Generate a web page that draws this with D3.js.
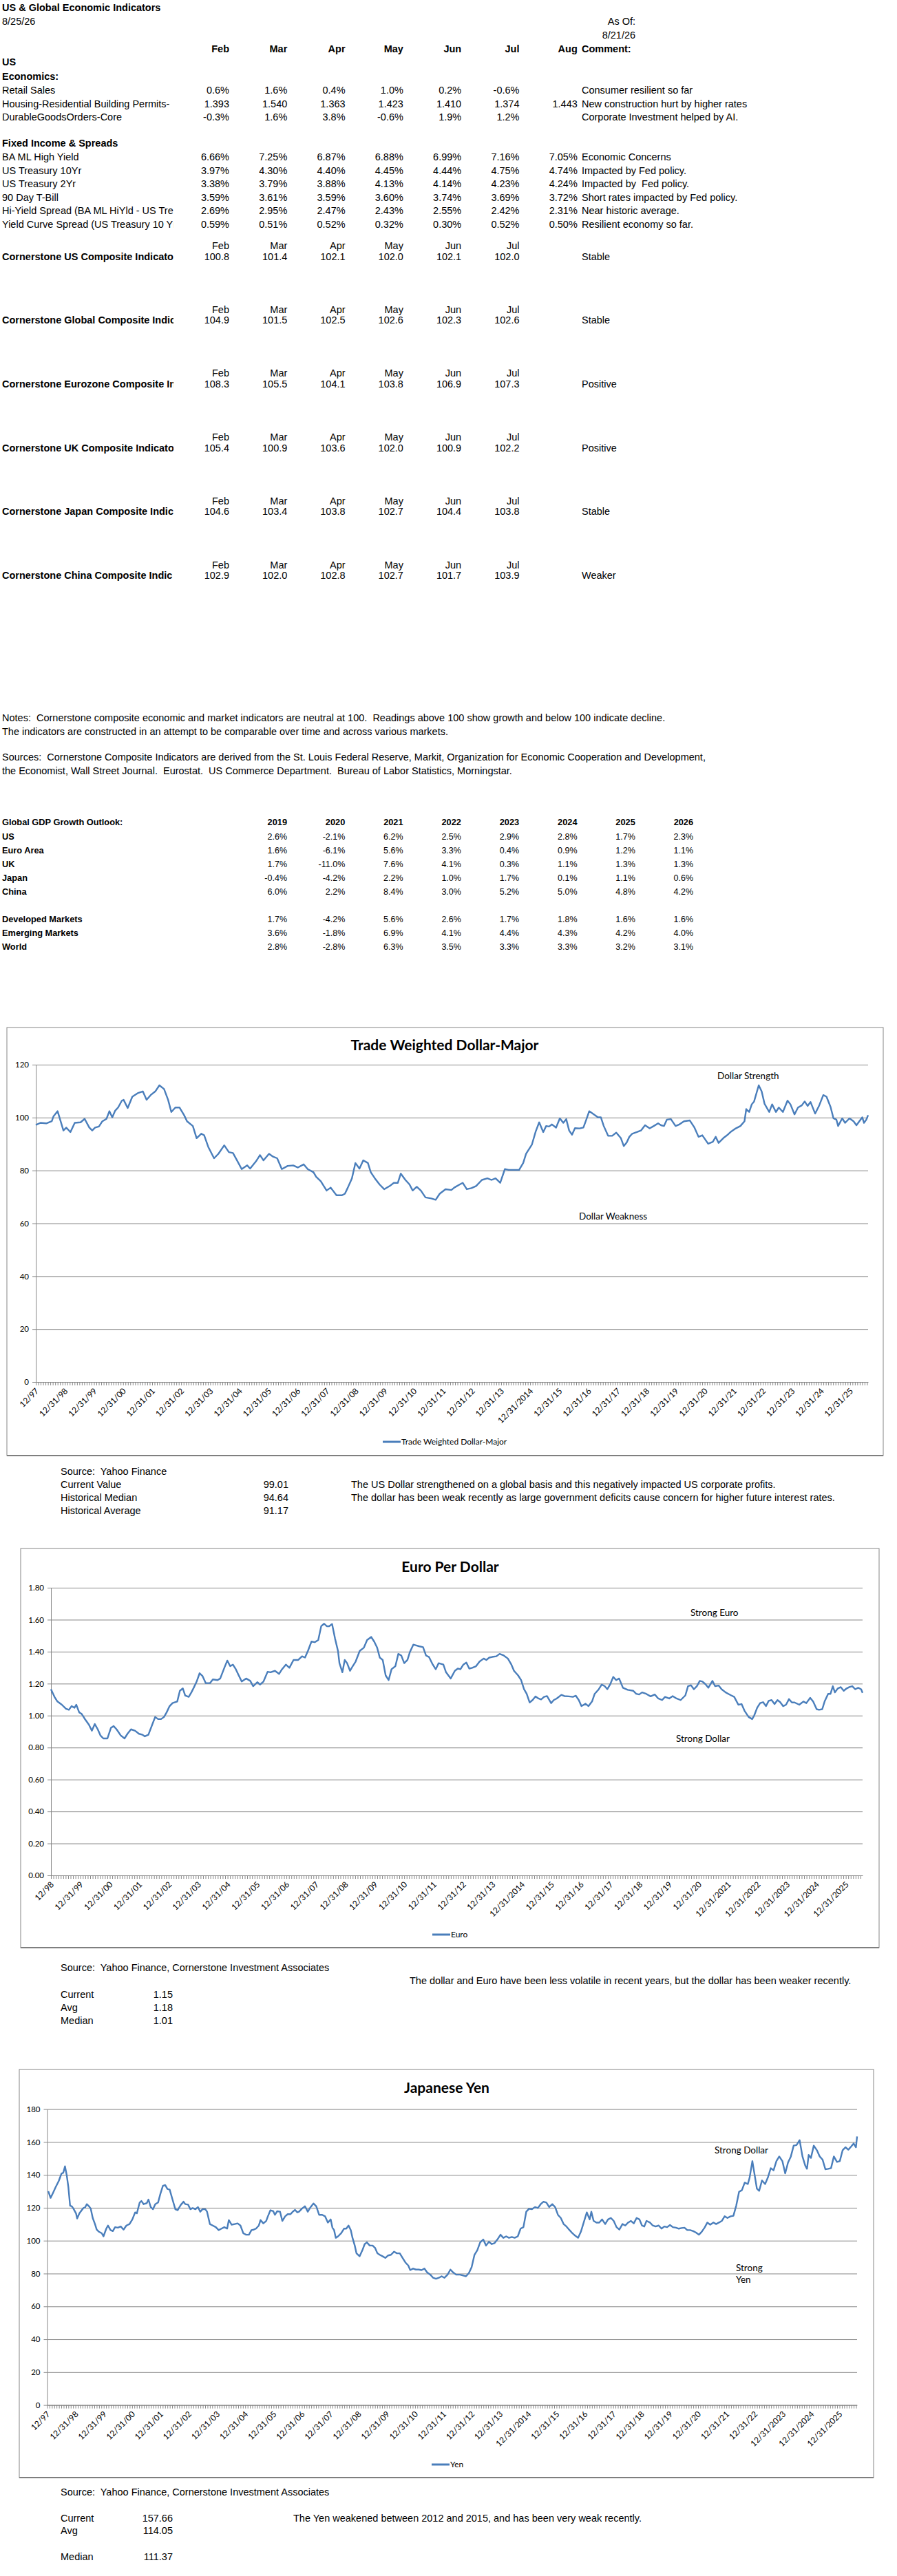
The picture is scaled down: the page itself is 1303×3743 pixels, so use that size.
<!DOCTYPE html>
<html>
<head>
<meta charset="utf-8">
<script src="https://cdn.jsdelivr.net/npm/d3@7"></script>
<style>
body{margin:0;background:#fff;}
svg text{font-family:"Liberation Sans",Arial,sans-serif;font-size:14.5px;fill:#000;white-space:pre;}
svg .chart text{font-family:Lato,"Open Sans",sans-serif;}
</style>
</head>
<body>
<svg id="page" width="1303" height="3743"></svg>
<script>
// ---------- table data ----------
var reportTitle = "US & Global Economic Indicators";
var reportDate = "8/25/26";
var asOfDate = "8/21/26";
var months = ["Feb","Mar","Apr","May","Jun","Jul"];

var econRows = [
	["Retail Sales", ["0.6%","1.6%","0.4%","1.0%","0.2%","-0.6%"], "", "Consumer resilient so far"],
	["Housing-Residential Building Permits-Millions", ["1.393","1.540","1.363","1.423","1.410","1.374"], "1.443", "New construction hurt by higher rates"],
	["DurableGoodsOrders-Core", ["-0.3%","1.6%","3.8%","-0.6%","1.9%","1.2%"], "", "Corporate Investment helped by AI."]
];

var fixedRows = [
	["BA ML High Yield", ["6.66%","7.25%","6.87%","6.88%","6.99%","7.16%"], "7.05%", "Economic Concerns"],
	["US Treasury 10Yr", ["3.97%","4.30%","4.40%","4.45%","4.44%","4.75%"], "4.74%", "Impacted by Fed policy."],
	["US Treasury 2Yr", ["3.38%","3.79%","3.88%","4.13%","4.14%","4.23%"], "4.24%", "Impacted by  Fed policy."],
	["90 Day T-Bill", ["3.59%","3.61%","3.59%","3.60%","3.74%","3.69%"], "3.72%", "Short rates impacted by Fed policy."],
	["Hi-Yield Spread (BA ML HiYld - US Treasury 10Yr)", ["2.69%","2.95%","2.47%","2.43%","2.55%","2.42%"], "2.31%", "Near historic average."],
	["Yield Curve Spread (US Treasury 10 Yr - 2 Yr)", ["0.59%","0.51%","0.52%","0.32%","0.30%","0.52%"], "0.50%", "Resilient economy so far."]
];

var compositeNames = [
	"Cornerstone US Composite Indicator",
	"Cornerstone Global Composite Indicator",
	"Cornerstone Eurozone Composite Indicator",
	"Cornerstone UK Composite Indicator",
	"Cornerstone Japan Composite Indicator",
	"Cornerstone China Composite Indicator"
];
var compositeValues = [
	[100.8,101.4,102.1,102.0,102.1,102.0],
	[104.9,101.5,102.5,102.6,102.3,102.6],
	[108.3,105.5,104.1,103.8,106.9,107.3],
	[105.4,100.9,103.6,102.0,100.9,102.2],
	[104.6,103.4,103.8,102.7,104.4,103.8],
	[102.9,102.0,102.8,102.7,101.7,103.9]
];
var compositeComments = ["Stable","Stable","Positive","Positive","Stable","Weaker"];

var notesText = [
	"Notes:  Cornerstone composite economic and market indicators are neutral at 100.  Readings above 100 show growth and below 100 indicate decline.",
	"The indicators are constructed in an attempt to be comparable over time and across various markets."
];
var sourcesText = [
	"Sources:  Cornerstone Composite Indicators are derived from the St. Louis Federal Reserve, Markit, Organization for Economic Cooperation and Development,",
	"the Economist, Wall Street Journal.  Eurostat.  US Commerce Department.  Bureau of Labor Statistics, Morningstar."
];

var gdpTitle = "Global GDP Growth Outlook:";
var gdpYears = ["2019","2020","2021","2022","2023","2024","2025","2026"];
var gdpRegions = ["US","Euro Area","UK","Japan","China","Developed Markets","Emerging Markets","World"];
var gdpValues = [
	["2.6%","-2.1%","6.2%","2.5%","2.9%","2.8%","1.7%","2.3%"],
	["1.6%","-6.1%","5.6%","3.3%","0.4%","0.9%","1.2%","1.1%"],
	["1.7%","-11.0%","7.6%","4.1%","0.3%","1.1%","1.3%","1.3%"],
	["-0.4%","-4.2%","2.2%","1.0%","1.7%","0.1%","1.1%","0.6%"],
	["6.0%","2.2%","8.4%","3.0%","5.2%","5.0%","4.8%","4.2%"],
	["1.7%","-4.2%","5.6%","2.6%","1.7%","1.8%","1.6%","1.6%"],
	["3.6%","-1.8%","6.9%","4.1%","4.4%","4.3%","4.2%","4.0%"],
	["2.8%","-2.8%","6.3%","3.5%","3.3%","3.3%","3.2%","3.1%"]
];

// ---------- chart data (decimal year, value) ----------
var dollarSeries = [
[1998.00,97.2],[1998.16,98.0],[1998.36,97.8],[1998.55,98.6],[1998.61,100.5],[1998.75,102.4],[1998.95,95.1],[1999.05,96.2],[1999.19,94.5],[1999.34,98.0],
[1999.54,98.2],[1999.68,99.5],[1999.84,96.2],[1999.94,95.1],[2000.04,96.2],[2000.17,96.6],[2000.29,98.6],[2000.43,99.5],[2000.53,102.4],[2000.63,100.1],
[2000.73,102.6],[2000.83,103.8],[2000.96,106.4],[2001.02,106.7],[2001.16,103.6],[2001.32,107.9],[2001.52,109.3],[2001.68,109.9],[2001.81,106.7],[2001.95,108.5],
[2002.11,109.9],[2002.25,112.2],[2002.41,110.8],[2002.55,106.7],[2002.66,102.1],[2002.80,103.8],[2002.94,103.8],[2003.10,100.9],[2003.20,98.6],[2003.40,96.8],
[2003.53,92.2],[2003.69,93.9],[2003.79,93.3],[2003.93,88.9],[2004.13,84.6],[2004.28,86.3],[2004.48,89.5],[2004.64,86.9],[2004.78,86.6],[2004.92,83.8],
[2005.08,80.5],[2005.27,81.9],[2005.37,80.7],[2005.57,83.4],[2005.71,85.8],[2005.83,83.8],[2006.02,86.3],[2006.16,85.2],[2006.30,84.6],[2006.46,80.5],
[2006.66,81.7],[2006.85,81.9],[2007.01,81.1],[2007.21,82.3],[2007.35,80.5],[2007.55,79.3],[2007.64,77.6],[2007.80,75.9],[2008.00,72.4],[2008.14,73.5],
[2008.34,70.6],[2008.53,70.6],[2008.63,71.2],[2008.73,73.5],[2008.87,77.0],[2008.99,82.8],[2009.13,80.7],[2009.26,83.8],[2009.42,82.8],[2009.52,79.3],
[2009.66,77.0],[2009.82,74.7],[2009.98,72.9],[2010.17,74.1],[2010.31,75.3],[2010.45,75.3],[2010.55,78.8],[2010.71,76.4],[2010.85,74.7],[2010.96,72.4],
[2011.10,73.8],[2011.24,72.4],[2011.40,69.8],[2011.60,69.4],[2011.75,68.9],[2011.89,71.2],[2012.09,72.9],[2012.29,72.6],[2012.39,73.5],[2012.58,74.7],
[2012.68,75.3],[2012.82,72.9],[2012.98,73.3],[2013.14,74.1],[2013.34,76.4],[2013.53,77.0],[2013.67,76.4],[2013.81,77.0],[2013.97,75.3],[2014.13,80.5],
[2014.26,80.2],[2014.46,80.2],[2014.62,80.2],[2014.76,82.8],[2014.86,86.3],[2015.06,89.8],[2015.19,94.7],[2015.31,98.2],[2015.45,94.5],[2015.55,96.8],
[2015.65,96.6],[2015.75,97.4],[2015.89,96.2],[2016.02,99.7],[2016.14,98.0],[2016.24,99.4],[2016.34,95.1],[2016.44,93.5],[2016.54,96.0],[2016.70,95.9],
[2016.83,96.2],[2016.93,99.2],[2017.03,102.4],[2017.19,101.2],[2017.33,100.1],[2017.43,100.1],[2017.53,96.8],[2017.68,93.1],[2017.82,93.1],[2017.96,94.3],
[2018.12,92.2],[2018.22,89.2],[2018.32,90.6],[2018.41,92.7],[2018.51,93.9],[2018.67,94.5],[2018.81,95.1],[2018.95,97.1],[2019.11,95.9],[2019.25,96.8],
[2019.40,97.8],[2019.50,97.1],[2019.60,96.8],[2019.70,99.2],[2019.84,99.4],[2020.00,96.8],[2020.13,97.4],[2020.29,98.6],[2020.49,98.9],[2020.65,96.2],
[2020.79,92.7],[2020.92,93.3],[2021.12,90.1],[2021.28,90.8],[2021.38,92.7],[2021.48,90.4],[2021.64,92.2],[2021.77,93.3],[2021.91,94.7],[2022.07,95.9],
[2022.23,96.8],[2022.37,98.6],[2022.43,103.2],[2022.53,102.1],[2022.62,105.0],[2022.70,106.1],[2022.86,112.2],[2022.96,109.9],[2023.06,105.2],[2023.22,102.1],
[2023.32,105.0],[2023.45,102.1],[2023.55,103.8],[2023.69,102.1],[2023.85,106.4],[2023.95,105.0],[2024.09,101.2],[2024.21,103.8],[2024.34,104.6],[2024.44,106.1],
[2024.54,104.4],[2024.64,105.9],[2024.80,101.5],[2024.94,104.6],[2025.08,108.5],[2025.19,107.9],[2025.33,104.0],[2025.43,99.7],[2025.53,99.2],[2025.59,96.8],
[2025.73,99.7],[2025.83,98.0],[2025.98,99.7],[2026.12,98.6],[2026.22,97.1],[2026.32,98.6],[2026.42,100.1],[2026.48,98.0],[2026.56,99.2],[2026.62,100.9]
];
var dollarTicks = ["12/97","12/31/98","12/31/99","12/31/00","12/31/01","12/31/02","12/31/03","12/31/04","12/31/05","12/31/06",
	"12/31/07","12/31/08","12/31/09","12/31/10","12/31/11","12/31/12","12/31/13","12/31/2014","12/31/15","12/31/16",
	"12/31/17","12/31/18","12/31/19","12/31/20","12/31/21","12/31/22","12/31/23","12/31/24","12/31/25"];
var dollarStats = [["Current Value","99.01"],["Historical Median","94.64"],["Historical Average","91.17"]];
var dollarComments = [
	"The US Dollar strengthened on a global basis and this negatively impacted US corporate profits.",
	"The dollar has been weak recently as large government deficits cause concern for higher future interest rates."
];

var euroSeries = [
[1999.00,1.165],[1999.12,1.117],[1999.22,1.088],[1999.37,1.068],[1999.51,1.043],[1999.61,1.036],[1999.70,1.059],[1999.80,1.049],[1999.86,1.068],[1999.96,1.020],
[2000.04,1.011],[2000.14,0.982],[2000.29,0.943],[2000.39,0.905],[2000.49,0.947],[2000.59,0.914],[2000.68,0.876],[2000.78,0.857],[2000.92,0.857],[2001.04,0.924],
[2001.13,0.934],[2001.23,0.914],[2001.37,0.876],[2001.50,0.857],[2001.60,0.886],[2001.72,0.914],[2001.86,0.905],[2001.99,0.886],[2002.11,0.880],[2002.19,0.870],
[2002.31,0.880],[2002.44,0.943],[2002.54,0.991],[2002.64,0.978],[2002.74,0.978],[2002.84,0.991],[2002.93,1.020],[2003.03,1.059],[2003.13,1.078],[2003.29,1.088],
[2003.38,1.155],[2003.48,1.170],[2003.56,1.126],[2003.68,1.117],[2003.77,1.145],[2003.85,1.174],[2003.95,1.213],[2004.05,1.265],[2004.15,1.247],[2004.26,1.203],
[2004.40,1.203],[2004.50,1.226],[2004.66,1.222],[2004.75,1.232],[2004.89,1.299],[2004.99,1.344],[2005.09,1.309],[2005.18,1.319],[2005.28,1.290],[2005.38,1.251],
[2005.48,1.213],[2005.63,1.232],[2005.77,1.217],[2005.87,1.184],[2006.01,1.209],[2006.10,1.194],[2006.22,1.213],[2006.36,1.274],[2006.46,1.271],[2006.61,1.280],
[2006.75,1.261],[2006.85,1.290],[2006.98,1.319],[2007.10,1.299],[2007.24,1.348],[2007.40,1.348],[2007.53,1.371],[2007.63,1.363],[2007.73,1.405],[2007.85,1.463],
[2007.96,1.459],[2008.08,1.473],[2008.18,1.559],[2008.28,1.575],[2008.37,1.559],[2008.45,1.559],[2008.55,1.573],[2008.65,1.482],[2008.75,1.405],[2008.80,1.328],
[2008.90,1.271],[2008.98,1.348],[2009.06,1.328],[2009.16,1.280],[2009.25,1.309],[2009.35,1.338],[2009.49,1.405],[2009.63,1.425],[2009.74,1.473],[2009.88,1.492],
[2009.98,1.463],[2010.08,1.425],[2010.17,1.363],[2010.27,1.348],[2010.37,1.251],[2010.47,1.222],[2010.57,1.290],[2010.70,1.309],[2010.80,1.386],[2010.90,1.376],
[2011.00,1.328],[2011.11,1.348],[2011.19,1.396],[2011.31,1.444],[2011.39,1.440],[2011.50,1.434],[2011.64,1.428],[2011.74,1.376],[2011.84,1.367],[2011.97,1.319],
[2012.07,1.290],[2012.17,1.328],[2012.33,1.319],[2012.42,1.271],[2012.58,1.232],[2012.72,1.280],[2012.82,1.294],[2012.91,1.290],[2013.01,1.319],[2013.11,1.332],
[2013.21,1.294],[2013.31,1.299],[2013.44,1.309],[2013.56,1.338],[2013.70,1.357],[2013.79,1.348],[2013.89,1.363],[2013.99,1.367],[2014.13,1.371],[2014.24,1.386],
[2014.38,1.376],[2014.52,1.357],[2014.64,1.319],[2014.73,1.280],[2014.87,1.251],[2014.97,1.222],[2015.07,1.165],[2015.16,1.136],[2015.26,1.082],[2015.36,1.097],
[2015.46,1.120],[2015.56,1.107],[2015.65,1.101],[2015.75,1.117],[2015.85,1.122],[2015.99,1.078],[2016.08,1.097],[2016.18,1.107],[2016.34,1.130],[2016.44,1.122],
[2016.59,1.120],[2016.73,1.117],[2016.83,1.124],[2016.93,1.097],[2017.02,1.059],[2017.16,1.074],[2017.26,1.059],[2017.38,1.088],[2017.47,1.136],[2017.61,1.165],
[2017.71,1.194],[2017.81,1.184],[2017.90,1.165],[2018.00,1.197],[2018.10,1.242],[2018.20,1.222],[2018.30,1.232],[2018.43,1.174],[2018.59,1.161],[2018.78,1.155],
[2018.88,1.136],[2018.98,1.132],[2019.08,1.145],[2019.22,1.136],[2019.37,1.120],[2019.51,1.132],[2019.63,1.107],[2019.76,1.097],[2019.86,1.117],[2020.00,1.107],
[2020.12,1.122],[2020.25,1.107],[2020.39,1.097],[2020.55,1.126],[2020.64,1.184],[2020.74,1.190],[2020.84,1.165],[2020.94,1.184],[2021.04,1.217],[2021.13,1.213],
[2021.23,1.197],[2021.33,1.174],[2021.47,1.217],[2021.56,1.184],[2021.68,1.188],[2021.78,1.165],[2021.92,1.145],[2022.01,1.136],[2022.11,1.126],[2022.21,1.117],
[2022.35,1.068],[2022.46,1.072],[2022.56,1.030],[2022.70,0.991],[2022.82,0.978],[2022.89,1.001],[2022.99,1.049],[2023.09,1.078],[2023.19,1.084],[2023.29,1.059],
[2023.38,1.092],[2023.48,1.097],[2023.58,1.072],[2023.68,1.097],[2023.77,1.084],[2023.87,1.059],[2023.97,1.068],[2024.07,1.103],[2024.17,1.082],[2024.26,1.082],
[2024.42,1.068],[2024.56,1.088],[2024.66,1.078],[2024.79,1.111],[2024.89,1.088],[2025.01,1.040],[2025.09,1.036],[2025.20,1.040],[2025.28,1.088],[2025.40,1.136],
[2025.48,1.136],[2025.56,1.184],[2025.63,1.145],[2025.73,1.170],[2025.83,1.178],[2025.93,1.155],[2026.03,1.170],[2026.12,1.178],[2026.22,1.184],[2026.32,1.165],
[2026.42,1.174],[2026.52,1.165],[2026.57,1.142]
];
var euroTicks = ["12/98","12/31/99","12/31/00","12/31/01","12/31/02","12/31/03","12/31/04","12/31/05","12/31/06","12/31/07",
	"12/31/08","12/31/09","12/31/10","12/31/11","12/31/12","12/31/13","12/31/2014","12/31/15","12/31/16","12/31/17",
	"12/31/18","12/31/19","12/31/20","12/31/2021","12/31/2022","12/31/2023","12/31/2024","12/31/2025"];
var euroStats = [["Current","1.15"],["Avg","1.18"],["Median","1.01"]];
var euroComment = "The dollar and Euro have been less volatile in recent years, but the dollar has been weaker recently.";

var yenSeries = [
[1998.04,130.1],[1998.12,126.0],[1998.20,128.8],[1998.30,132.5],[1998.41,136.3],[1998.51,140.9],[1998.57,141.3],[1998.63,145.2],[1998.69,140.0],[1998.75,132.5],
[1998.81,121.3],[1998.87,120.9],[1998.93,119.4],[1999.02,116.6],[1999.06,113.5],[1999.14,116.6],[1999.22,118.5],[1999.28,119.8],[1999.34,120.2],[1999.40,122.2],
[1999.48,120.9],[1999.54,119.4],[1999.61,113.8],[1999.69,110.1],[1999.75,106.7],[1999.83,105.4],[1999.93,104.5],[1999.99,102.6],[2000.09,107.3],[2000.15,109.2],
[2000.24,106.4],[2000.32,105.8],[2000.40,108.2],[2000.50,107.9],[2000.60,108.6],[2000.70,106.7],[2000.80,109.2],[2000.91,110.1],[2001.01,112.9],[2001.11,117.2],
[2001.17,116.6],[2001.27,123.2],[2001.33,124.1],[2001.41,122.2],[2001.52,122.8],[2001.58,125.0],[2001.66,120.4],[2001.74,119.1],[2001.82,122.2],[2001.92,123.2],
[2002.00,128.4],[2002.09,133.3],[2002.17,133.8],[2002.25,131.4],[2002.33,131.0],[2002.43,125.0],[2002.53,119.1],[2002.61,118.5],[2002.72,121.7],[2002.82,123.7],
[2002.88,122.2],[2002.98,121.9],[2003.06,119.1],[2003.14,119.8],[2003.24,119.1],[2003.33,120.4],[2003.41,117.6],[2003.49,119.1],[2003.59,119.1],[2003.65,117.6],
[2003.75,110.1],[2003.85,109.2],[2003.96,108.2],[2004.06,106.4],[2004.16,107.3],[2004.26,108.2],[2004.36,107.3],[2004.42,112.5],[2004.52,109.7],[2004.63,110.1],
[2004.73,110.5],[2004.83,109.2],[2004.93,104.5],[2005.03,103.6],[2005.13,103.6],[2005.22,106.4],[2005.30,106.7],[2005.38,107.3],[2005.48,109.2],[2005.54,112.5],
[2005.64,110.5],[2005.74,112.0],[2005.80,114.8],[2005.89,118.5],[2005.99,117.9],[2006.05,115.7],[2006.13,117.9],[2006.23,117.6],[2006.31,112.0],[2006.41,114.8],
[2006.50,116.1],[2006.60,116.1],[2006.68,117.6],[2006.76,118.7],[2006.84,117.2],[2006.90,117.6],[2007.00,119.4],[2007.11,120.9],[2007.21,117.6],[2007.31,120.4],
[2007.41,122.6],[2007.51,120.9],[2007.61,115.7],[2007.72,115.7],[2007.82,114.8],[2007.92,111.0],[2008.02,112.9],[2008.08,107.9],[2008.14,106.4],[2008.20,101.7],
[2008.28,102.6],[2008.39,104.5],[2008.49,107.3],[2008.57,107.3],[2008.65,109.2],[2008.73,106.4],[2008.79,101.7],[2008.87,97.0],[2008.93,92.3],[2009.04,90.5],
[2009.14,94.2],[2009.22,97.9],[2009.30,98.9],[2009.40,97.0],[2009.50,97.0],[2009.59,95.5],[2009.67,92.3],[2009.75,91.4],[2009.85,90.5],[2009.95,89.5],
[2010.05,91.0],[2010.15,91.4],[2010.26,93.3],[2010.36,92.3],[2010.46,92.3],[2010.56,89.5],[2010.66,86.7],[2010.76,84.9],[2010.83,82.1],[2010.93,83.0],
[2011.03,82.4],[2011.13,82.4],[2011.23,82.1],[2011.33,83.0],[2011.43,80.6],[2011.54,79.3],[2011.64,77.4],[2011.74,76.8],[2011.84,77.4],[2011.94,78.3],
[2012.04,77.4],[2012.15,79.3],[2012.25,82.4],[2012.35,80.6],[2012.45,79.3],[2012.59,79.3],[2012.72,78.7],[2012.80,78.3],[2012.90,80.2],[2013.00,83.9],
[2013.10,91.4],[2013.20,94.2],[2013.30,98.9],[2013.41,100.7],[2013.51,97.0],[2013.61,99.3],[2013.71,97.9],[2013.81,98.5],[2013.91,100.7],[2014.02,103.6],
[2014.12,101.7],[2014.22,102.6],[2014.32,101.7],[2014.42,102.2],[2014.52,101.7],[2014.63,102.6],[2014.73,107.3],[2014.83,108.2],[2014.93,117.6],[2015.03,119.4],
[2015.13,119.1],[2015.24,120.4],[2015.34,119.8],[2015.44,122.2],[2015.54,123.7],[2015.64,123.2],[2015.74,120.4],[2015.85,122.2],[2015.95,120.4],[2016.05,115.7],
[2016.15,113.8],[2016.25,110.1],[2016.35,108.6],[2016.46,106.4],[2016.56,104.5],[2016.66,103.0],[2016.76,101.7],[2016.86,105.4],[2016.96,111.0],[2017.07,117.2],
[2017.17,112.9],[2017.23,117.6],[2017.31,112.0],[2017.41,111.0],[2017.51,111.0],[2017.61,112.9],[2017.72,110.1],[2017.82,112.9],[2017.92,113.8],[2018.02,112.0],
[2018.12,108.2],[2018.22,106.7],[2018.33,110.1],[2018.43,109.2],[2018.53,111.0],[2018.63,112.0],[2018.73,110.5],[2018.83,113.8],[2018.93,112.9],[2019.02,109.2],
[2019.10,108.6],[2019.18,112.0],[2019.30,111.0],[2019.40,109.2],[2019.50,108.6],[2019.61,109.2],[2019.71,107.3],[2019.81,108.6],[2019.91,108.2],[2020.01,109.5],
[2020.11,108.2],[2020.22,107.9],[2020.32,107.3],[2020.42,107.7],[2020.52,107.9],[2020.62,106.4],[2020.72,106.4],[2020.83,105.8],[2020.93,104.9],[2021.03,103.6],
[2021.13,105.4],[2021.23,107.9],[2021.33,111.0],[2021.43,109.7],[2021.54,111.0],[2021.64,110.1],[2021.74,111.0],[2021.84,112.0],[2021.94,114.8],[2022.04,113.8],
[2022.15,114.8],[2022.25,115.1],[2022.35,121.3],[2022.45,129.7],[2022.55,130.7],[2022.65,135.3],[2022.76,134.4],[2022.82,138.1],[2022.92,148.4],[2023.00,140.0],
[2023.08,131.6],[2023.16,130.3],[2023.26,136.6],[2023.37,134.4],[2023.47,138.5],[2023.57,144.1],[2023.67,142.8],[2023.77,148.4],[2023.87,151.2],[2023.98,148.4],
[2024.08,140.9],[2024.18,147.5],[2024.28,151.2],[2024.38,157.8],[2024.48,158.1],[2024.59,161.1],[2024.69,151.2],[2024.79,145.6],[2024.85,143.7],[2024.91,152.1],
[2024.99,150.3],[2025.09,157.8],[2025.20,155.0],[2025.30,151.2],[2025.40,149.3],[2025.50,143.4],[2025.60,143.7],[2025.70,144.1],[2025.80,151.2],[2025.91,147.9],
[2026.01,148.4],[2026.11,155.0],[2026.21,156.8],[2026.31,155.3],[2026.41,157.2],[2026.50,159.1],[2026.58,156.8],[2026.62,163.4]
];
var yenTicks = ["12/97","12/31/98","12/31/99","12/31/00","12/31/01","12/31/02","12/31/03","12/31/04","12/31/05","12/31/06",
	"12/31/07","12/31/08","12/31/09","12/31/10","12/31/11","12/31/12","12/31/13","12/31/2014","12/31/15","12/31/16",
	"12/31/17","12/31/18","12/31/19","12/31/20","12/31/21","12/31/22","12/31/2023","12/31/2024","12/31/2025"];
var yenStats = [["Current","157.66"],["Avg","114.05"],["Median","111.37"]];
var yenComment = "The Yen weakened between 2012 and 2015, and has been very weak recently.";

// ---------- layout ----------
var svg = d3.select("#page");
var colRight = months.map(function(m,i){ return 333 + 84.3*i; });
var augRight = 333 + 84.3*6;
var commentX = 845;
var labelClip = 252;
var lineColor = "#4a7ebb";
var gridColor = "#868686";

function txt(g, x, y, s, anchor, weight, size){
	var t = g.append("text")
		.attr("x", x)
		.attr("y", y)
		.attr("dy", "0.35em")
		.attr("text-anchor", anchor || "start")
		.text(s);
	if(weight) t.attr("font-weight", weight);
	if(size) t.style("font-size", size + "px");
	return t;
}

// spreadsheet cells cut long labels at the column edge
function fitLabel(t){
	var s = t.text();
	while(s.length && t.node().getComputedTextLength() > labelClip + 2){
		s = s.slice(0, -1);
		t.text(s);
	}
	return t;
}

svg.append("clipPath").attr("id","labelClip")
	.append("rect").attr("x",0).attr("y",0).attr("width",labelClip).attr("height",1000);

function drawTable(){
	var g = svg.append("g");
	var labels = svg.append("g").attr("clip-path","url(#labelClip)");

	txt(labels, 3, 11, reportTitle, "start", "bold");
	txt(labels, 3, 31, reportDate);
	txt(g, augRight + 84.3, 31, "As Of:", "end");
	txt(g, augRight + 84.3, 51, asOfDate, "end");

	months.forEach(function(m,i){ txt(g, colRight[i], 71, m, "end", "bold"); });
	txt(g, augRight, 71, "Aug", "end", "bold");
	txt(g, commentX, 71, "Comment:", "start", "bold");

	txt(labels, 3, 90, "US", "start", "bold");
	txt(labels, 3, 111, "Economics:", "start", "bold");

	function rows(list, start){
		list.forEach(function(r,i){
			var y = start + 19.5*i;
			fitLabel(txt(labels, 3, y, r[0]));
			r[1].forEach(function(v,j){ txt(g, colRight[j], y, v, "end"); });
			if(r[2]) txt(g, augRight, y, r[2], "end");
			txt(g, commentX, y, r[3]);
		});
	}
	rows(econRows, 131);
	txt(labels, 3, 208, "Fixed Income & Spreads", "start", "bold");
	rows(fixedRows, 228);

	compositeNames.forEach(function(name,i){
		var top = 357 + 92.7*i;
		months.forEach(function(m,j){ txt(g, colRight[j], top, m, "end"); });
		fitLabel(txt(labels, 3, top + 15.5, name, "start", "bold"));
		compositeValues[i].forEach(function(v,j){ txt(g, colRight[j], top + 15.5, v.toFixed(1), "end"); });
		txt(g, commentX, top + 15.5, compositeComments[i]);
	});

	notesText.forEach(function(s,i){ txt(g, 3, 1043 + 19.5*i, s); });
	sourcesText.forEach(function(s,i){ txt(g, 3, 1100 + 19.5*i, s); });

	// GDP outlook
	var gdpCol = function(k){ return 417 + 84.3*k; };
	txt(g, 3, 1195, gdpTitle, "start", "bold", 12.8);
	gdpYears.forEach(function(yr,k){ txt(g, gdpCol(k), 1195, yr, "end", "bold", 12.8); });
	gdpRegions.forEach(function(name,i){
		var y = 1216 + 20*(i + (i >= 5 ? 1 : 0));
		txt(g, 3, y, name, "start", "bold", 12.8);
		gdpValues[i].forEach(function(v,k){ txt(g, gdpCol(k), y, v, "end", null, 12.5); });
	});
}

function drawChart(cfg){
	var g = svg.append("g").attr("class","chart");
	var box = cfg.box, plot = cfg.plot;

	g.append("rect")
		.attr("x", box[0]).attr("y", box[1])
		.attr("width", box[2]-box[0]).attr("height", box[3]-box[1])
		.attr("fill", "#fff").attr("stroke", gridColor).attr("stroke-width", 1);
	g.append("line")
		.attr("x1", box[0]).attr("x2", box[2]).attr("y1", box[3]).attr("y2", box[3])
		.attr("stroke", "#7f7f7f").attr("stroke-width", 2);

	g.append("text")
		.attr("x", cfg.titleAt[0]).attr("y", cfg.titleAt[1]).attr("dy","0.35em")
		.attr("text-anchor","middle").attr("font-weight","bold")
		.style("font-size","21px")
		.text(cfg.title);

	var x = d3.scaleLinear().domain(cfg.xDomain).range([plot[0], plot[2]]);
	var y = d3.scaleLinear().domain([0, cfg.yMax]).range([plot[3], plot[1]]);
	var yTicks = d3.range(0, cfg.yMax + cfg.yStep/2, cfg.yStep);

	// gridlines
	g.append("g")
		.attr("transform","translate(" + plot[0] + ",0)")
		.call(d3.axisLeft(y).tickValues(yTicks).tickSize(-(plot[2]-plot[0])).tickFormat("").tickSizeOuter(0))
		.call(function(a){
			a.select(".domain").remove();
			a.selectAll("line").attr("stroke", gridColor);
		});

	// y axis
	var ya = g.append("g")
		.attr("transform","translate(" + plot[0] + ",0)")
		.call(d3.axisLeft(y).tickValues(yTicks).tickSize(5).tickPadding(5).tickSizeOuter(0).tickFormat(cfg.yFormat));
	ya.attr("font-family", null).attr("font-size", null);
	ya.select(".domain").attr("stroke", gridColor);
	ya.selectAll("line").attr("stroke", gridColor);
	ya.selectAll("text").style("font-size","11.5px").attr("fill","#000");

	// x axis with monthly minor ticks
	var monthTicks = d3.range(cfg.xDomain[0], cfg.xDomain[1] + 0.0001, 1/12);
	var xa = g.append("g")
		.attr("transform","translate(0," + plot[3] + ")")
		.call(d3.axisBottom(x).tickValues(monthTicks).tickSize(5).tickFormat("").tickSizeOuter(0));
	xa.select(".domain").attr("stroke", gridColor);
	xa.selectAll("line").attr("stroke", gridColor);

	g.selectAll(".xlabel")
		.data(cfg.ticks)
		.enter()
			.append("text")
			.attr("class","xlabel")
			.attr("text-anchor","end")
			.attr("transform", function(d,i){
				return "translate(" + (x(cfg.labelStart + i) + 5) + "," + (plot[3] + 14) + ") rotate(-45)";
			})
			.style("font-size","12px")
			.text(function(d){ return d; });

	// series
	var line = d3.line()
		.x(function(d){ return x(d[0]); })
		.y(function(d){ return y(d[1]); });
	g.append("path")
		.datum(cfg.series)
		.attr("d", line)
		.attr("fill","none")
		.attr("stroke", lineColor)
		.attr("stroke-width", 2.4)
		.attr("stroke-linejoin","round");

	// annotations
	cfg.notes.forEach(function(n){
		g.append("text").attr("x", n[0]).attr("y", n[1]).attr("dy","0.35em")
			.style("font-size","13.5px").text(n[2]);
	});

	// legend
	var lg = cfg.legend;
	g.append("line")
		.attr("x1", lg[0]).attr("x2", lg[0] + 26).attr("y1", lg[1]).attr("y2", lg[1])
		.attr("stroke", lineColor).attr("stroke-width", 3);
	g.append("text").attr("x", lg[0] + 27).attr("y", lg[1]).attr("dy","0.35em")
		.style("font-size","12px").text(cfg.legendName);
}

function drawStats(stats, ys, labelX, valueRight){
	var g = svg.append("g");
	stats.forEach(function(s,i){
		txt(g, labelX, ys[i], s[0]);
		txt(g, valueRight, ys[i], s[1], "end");
	});
	return g;
}

drawTable();

// Trade weighted dollar
drawChart({
	box: [10, 1493, 1283, 2115],
	plot: [52, 1547, 1261, 2008],
	title: "Trade Weighted Dollar-Major",
	titleAt: [646, 1519],
	xDomain: [1998.0, 2026.62],
	yMax: 120, yStep: 20,
	yFormat: d3.format("d"),
	series: dollarSeries,
	ticks: dollarTicks,
	labelStart: 1998,
	notes: [[1042, 1563, "Dollar Strength"], [841, 1767, "Dollar Weakness"]],
	legend: [556, 2095],
	legendName: "Trade Weighted Dollar-Major"
});
txt(svg, 88, 2138, "Source:  Yahoo Finance");
var dg = drawStats(dollarStats, [2157, 2176, 2195], 88, 419);
dollarComments.forEach(function(c,i){ txt(dg, 510, 2157 + 19*i, c); });

// Euro per dollar
drawChart({
	box: [30, 2250, 1277, 2830],
	plot: [74, 2307, 1253, 2725],
	title: "Euro Per Dollar",
	titleAt: [654, 2277],
	xDomain: [1999.0, 2026.57],
	yMax: 1.8, yStep: 0.2,
	yFormat: d3.format(".2f"),
	series: euroSeries,
	ticks: euroTicks,
	labelStart: 1999,
	notes: [[1003, 2343, "Strong Euro"], [982, 2526, "Strong Dollar"]],
	legend: [628, 2811],
	legendName: "Euro"
});
txt(svg, 88, 2859, "Source:  Yahoo Finance, Cornerstone Investment Associates");
txt(svg, 595, 2878, euroComment);
drawStats(euroStats, [2898, 2917, 2936], 88, 251);

// Japanese yen
drawChart({
	box: [28, 3007, 1269, 3600],
	plot: [68.5, 3064.6, 1245, 3494.6],
	title: "Japanese Yen",
	titleAt: [649, 3034],
	xDomain: [1998.0, 2026.62],
	yMax: 180, yStep: 20,
	yFormat: d3.format("d"),
	series: yenSeries,
	ticks: yenTicks,
	labelStart: 1998,
	notes: [[1038, 3124, "Strong Dollar"], [1069, 3295, "Strong"], [1069, 3312, "Yen"]],
	legend: [627, 3581],
	legendName: "Yen"
});
txt(svg, 88, 3621, "Source:  Yahoo Finance, Cornerstone Investment Associates");
drawStats(yenStats, [3659, 3677, 3715], 88, 251);
txt(svg, 426, 3659, yenComment);
</script>
</body>
</html>
